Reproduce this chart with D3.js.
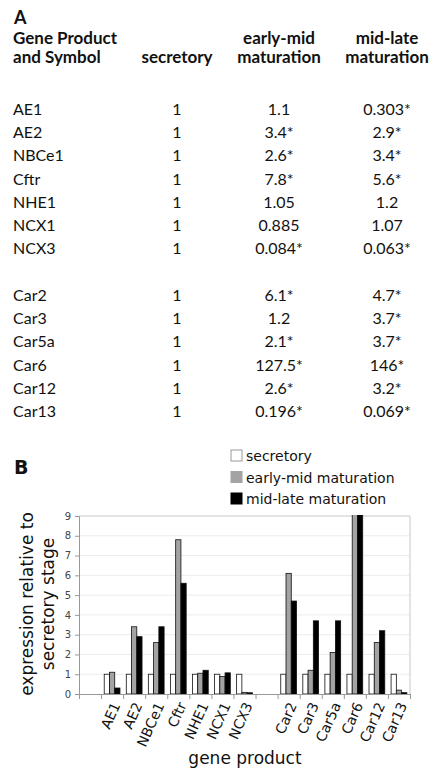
<!doctype html>
<html>
<head>
<meta charset="utf-8">
<title>Gene expression by stage</title>
<script src="https://d3js.org/d3.v7.min.js"></script>
<style>
  body { margin: 0; background: #fff; }
  .tbl { font-family: Lato, "Open Sans", sans-serif; fill: #111; }
  .chart { font-family: "DejaVu Sans", Verdana, sans-serif; fill: #111; }
</style>
</head>
<body>
<div id="fig"></div>
<script>
const transporters = ["AE1", "AE2", "NBCe1", "Cftr", "NHE1", "NCX1", "NCX3"];
const anhydrases = ["Car2", "Car3", "Car5a", "Car6", "Car12", "Car13"];
const genes = transporters.concat(anhydrases);

const secretory = [1, 1, 1, 1, 1, 1, 1, 1, 1, 1, 1, 1, 1];
const earlyMid  = [1.1, 3.4, 2.6, 7.8, 1.05, 0.885, 0.084, 6.1, 1.2, 2.1, 127.5, 2.6, 0.196];
const midLate   = [0.303, 2.9, 3.4, 5.6, 1.2, 1.07, 0.063, 4.7, 3.7, 3.7, 146, 3.2, 0.069];
// significant change vs secretory (asterisk in table)
const earlyMidSig = [0, 1, 1, 1, 0, 0, 1, 1, 0, 1, 1, 1, 1];
const midLateSig  = [1, 1, 1, 1, 0, 0, 1, 1, 1, 1, 1, 1, 1];

const seriesNames = ["secretory", "early-mid maturation", "mid-late maturation"];
const seriesColors = ["#ffffff", "#a3a3a3", "#000000"];
const yTicks = [0, 1, 2, 3, 4, 5, 6, 7, 8, 9];

const W = 436, H = 770;
const svg = d3.select("#fig").append("svg").attr("width", W).attr("height", H);

// ---------- panel A: table ----------
const tA = svg.append("g").attr("class", "tbl");
tA.append("text").attr("x", 14).attr("y", 24).attr("font-weight", "bold")
  .attr("font-size", 18).text("A");

const colX = { name: 13, sec: 177, em: 279, ml: 387 };
const head = tA.append("g").attr("font-weight", "bold").attr("font-size", 17);
head.append("text").attr("x", colX.name).attr("y", 44).text("Gene Product");
head.append("text").attr("x", colX.name).attr("y", 63).text("and Symbol");
head.append("text").attr("x", colX.sec).attr("y", 63).attr("text-anchor", "middle").text("secretory");
head.append("text").attr("x", colX.em).attr("y", 44).attr("text-anchor", "middle").text("early-mid");
head.append("text").attr("x", colX.em).attr("y", 63).attr("text-anchor", "middle").text("maturation");
head.append("text").attr("x", colX.ml).attr("y", 44).attr("text-anchor", "middle").text("mid-late");
head.append("text").attr("x", colX.ml).attr("y", 63).attr("text-anchor", "middle").text("maturation");

// row index leaves a blank line between the two gene groups
const rowIndex = genes.map((g, i) => i < transporters.length ? i : i + 1);
const rowY = d3.scaleLinear().domain([0, 13]).range([115, 417]);

const rows = tA.selectAll("g.row").data(genes).enter().append("g")
  .attr("class", "row").attr("font-size", 16)
  .attr("transform", (d, i) => `translate(0,${rowY(rowIndex[i])})`);
rows.append("text").attr("x", colX.name).text(d => d);
rows.append("text").attr("x", colX.sec).attr("text-anchor", "middle").text((d, i) => secretory[i]);
rows.append("text").attr("x", colX.em).attr("text-anchor", "middle")
  .text((d, i) => earlyMid[i] + (earlyMidSig[i] ? "*" : ""));
rows.append("text").attr("x", colX.ml).attr("text-anchor", "middle")
  .text((d, i) => midLate[i] + (midLateSig[i] ? "*" : ""));

// ---------- panel B: bar chart ----------
const cB = svg.append("g").attr("class", "chart");
cB.append("text").attr("x", 14).attr("y", 474).attr("font-weight", "bold")
  .attr("font-size", 19).text("B");

// legend
const leg = cB.selectAll("g.leg").data(seriesNames).enter().append("g")
  .attr("class", "leg").attr("transform", (d, i) => `translate(231,${450 + i * 21.5})`);
leg.append("rect").attr("width", 11).attr("height", 11)
  .attr("fill", (d, i) => seriesColors[i]).attr("stroke", (d, i) => i === 0 ? "#999" : seriesColors[i]);
leg.append("text").attr("x", 15).attr("y", 11).attr("font-size", 14).text(d => d);

// categories: leading blank slot and a blank slot between the groups
const slots = [""].concat(transporters, [""], anhydrases);
const geneSlot = genes.map((g, i) => i < transporters.length ? i + 1 : i + 2);

const plot = { left: 79, right: 410, top: 516, bottom: 694 };
const x = d3.scaleBand().domain(d3.range(slots.length)).range([plot.left, plot.right]);
const xEdge = d3.scaleLinear().domain([0, slots.length]).range([plot.left, plot.right]);
const xSub = d3.scaleBand().domain(d3.range(3)).range([0, x.bandwidth()]).paddingOuter(0.6);
const y = d3.scaleLinear().domain([0, 9]).range([plot.bottom, plot.top]);

// grid
cB.append("g").selectAll("line").data(yTicks.slice(1)).enter().append("line")
  .attr("x1", plot.left).attr("x2", plot.right)
  .attr("y1", d => y(d)).attr("y2", d => y(d))
  .attr("stroke", d => d === 9 ? "#c8c8c8" : "#ececec");
cB.append("line").attr("x1", plot.right).attr("x2", plot.right)
  .attr("y1", plot.top).attr("y2", plot.bottom).attr("stroke", "#c8c8c8");

// bars
cB.append("clipPath").attr("id", "plotClip").append("rect")
  .attr("x", plot.left).attr("y", plot.top - 1)
  .attr("width", plot.right - plot.left).attr("height", plot.bottom - plot.top + 1);

const series = [secretory, earlyMid, midLate];
const barData = [];
genes.forEach((g, i) => series.forEach((s, k) => barData.push({ slot: geneSlot[i], k: k, v: s[i] })));

cB.append("g").attr("clip-path", "url(#plotClip)")
  .selectAll("rect").data(barData).enter().append("rect")
  .attr("x", d => x(d.slot) + xSub(d.k))
  .attr("width", xSub.bandwidth())
  .attr("y", d => y(d.v))
  .attr("height", d => y(0) - y(d.v))
  .attr("fill", d => seriesColors[d.k])
  .attr("stroke", "#111").attr("stroke-width", 0.8);

// axes
const yAxis = cB.append("g").attr("transform", `translate(${plot.left},0)`)
  .call(d3.axisLeft(y).tickValues(yTicks).tickSize(4).tickPadding(4));
yAxis.selectAll("text").attr("font-size", 10).attr("fill", "#444")
  .attr("font-family", "'DejaVu Sans', sans-serif");
yAxis.selectAll("line, path").attr("stroke", "#999");

const xAxis = cB.append("g").attr("transform", `translate(0,${plot.bottom})`)
  .call(d3.axisBottom(xEdge).tickValues(d3.range(slots.length + 1)).tickFormat("").tickSizeInner(5).tickSizeOuter(0));
xAxis.selectAll("line, path").attr("stroke", "#999");

cB.append("g").selectAll("text").data(slots).enter().append("text")
  .attr("transform", (d, i) => `translate(${x(i) + x.bandwidth() / 2 + 4},${plot.bottom + 9}) rotate(-66)`)
  .attr("text-anchor", "end").attr("dy", "0.35em").attr("font-size", 14)
  .text(d => d);

// axis titles
cB.append("text").attr("x", 245).attr("y", 764).attr("text-anchor", "middle")
  .attr("font-size", 17).text("gene product");
const yt = cB.append("text").attr("transform", "translate(33,604) rotate(-90)")
  .attr("text-anchor", "middle").attr("font-size", 17);
yt.append("tspan").attr("x", 0).attr("y", 0).text("expression relative to");
yt.append("tspan").attr("x", 0).attr("y", 21).text("secretory stage");
</script>
</body>
</html>
